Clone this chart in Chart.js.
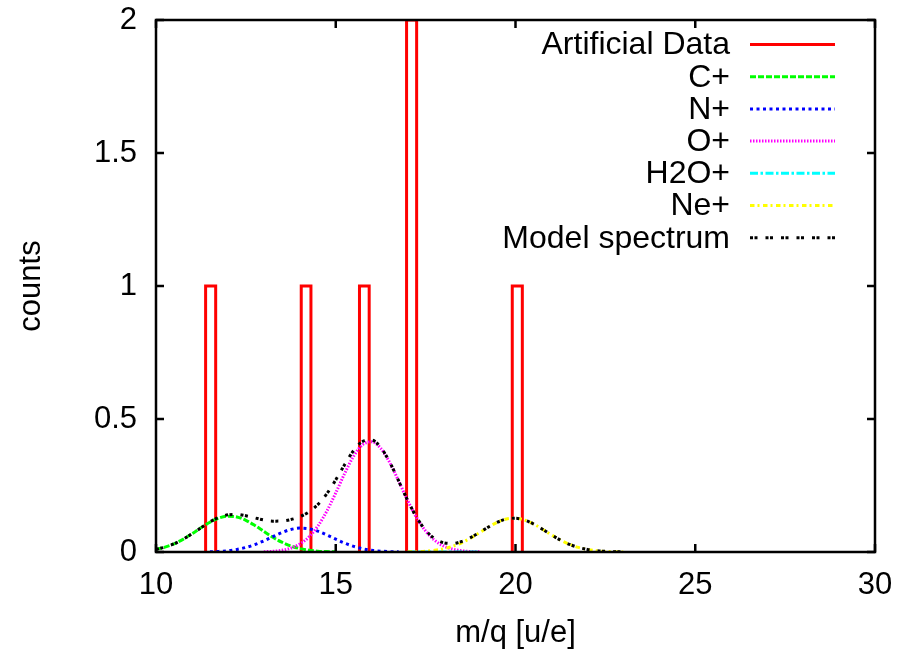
<!DOCTYPE html>
<html>
<head>
<meta charset="utf-8">
<script src="https://cdn.jsdelivr.net/npm/chart.js@4"></script>
<style>
  html, body { margin: 0; padding: 0; background: #fff; }
</style>
</head>
<body>
<canvas id="spectrum" width="899" height="655"></canvas>
<script>
// Histogram of the artificial data (bin edges and counts)
const binLeft  = [11.38, 14.04, 15.66, 16.97, 19.91];
const binRight = [11.66, 14.31, 15.93, 17.25, 20.19];
const binCounts = [1, 1, 1, 2, 1];

// Fitted species peaks
const cPlusMq = [10, 10.25, 10.5, 10.75, 11, 11.25, 11.5, 11.75, 12, 12.25, 12.5, 12.75, 13, 13.25, 13.5, 13.75, 14, 14.25, 14.5, 14.75, 15];
const cPlusCounts = [0.0101, 0.0183, 0.0306, 0.0476, 0.0683, 0.0910, 0.1120, 0.1277, 0.1348, 0.1317, 0.1191, 0.0997, 0.0773, 0.0555, 0.0369, 0.0227, 0.0129, 0.0068, 0.0033, 0.0015, 0.0006];

const nPlusMq = [11.5, 11.75, 12, 12.25, 12.5, 12.75, 13, 13.25, 13.5, 13.75, 14, 14.25, 14.5, 14.75, 15, 15.25, 15.5, 15.75, 16, 16.25, 16.5, 16.75];
const nPlusCounts = [0.0010, 0.0023, 0.0049, 0.0096, 0.0171, 0.0280, 0.0420, 0.0578, 0.0730, 0.0846, 0.0898, 0.0875, 0.0782, 0.0641, 0.0482, 0.0332, 0.0210, 0.0122, 0.0065, 0.0032, 0.0014, 0.0006];

const oPlusMq = [13, 13.25, 13.5, 13.75, 14, 14.25, 14.5, 14.75, 15, 15.25, 15.5, 15.75, 16, 16.25, 16.5, 16.75, 17, 17.25, 17.5, 17.75, 18, 18.25, 18.5, 18.75, 19];
const oPlusCounts = [0.0010, 0.0027, 0.0065, 0.0146, 0.0299, 0.0562, 0.0968, 0.1531, 0.2222, 0.2957, 0.3608, 0.4037, 0.4143, 0.3899, 0.3366, 0.2665, 0.1935, 0.1289, 0.0787, 0.0441, 0.0226, 0.0107, 0.0046, 0.0018, 0.0007];

// H2O+ came out empty (lies on the baseline)
const h2oPlusMq = [17, 18, 19];
const h2oPlusCounts = [0, 0, 0];

const nePlusMq = [17, 17.25, 17.5, 17.75, 18, 18.25, 18.5, 18.75, 19, 19.25, 19.5, 19.75, 20, 20.25, 20.5, 20.75, 21, 21.25, 21.5, 21.75, 22, 22.25, 22.5, 22.75, 23];
const nePlusCounts = [0.0006, 0.0014, 0.0031, 0.0064, 0.0121, 0.0213, 0.0347, 0.0522, 0.0728, 0.0939, 0.1121, 0.1240, 0.1268, 0.1201, 0.1054, 0.0856, 0.0643, 0.0447, 0.0288, 0.0172, 0.0095, 0.0048, 0.0023, 0.0010, 0.0004];

const modelMq = [10, 10.25, 10.5, 10.75, 11, 11.25, 11.5, 11.75, 12, 12.25, 12.5, 12.75, 13, 13.25, 13.5, 13.75, 14, 14.25, 14.5, 14.75, 15, 15.25, 15.5, 15.75, 16, 16.25, 16.5, 16.75, 17, 17.25, 17.5, 17.75, 18, 18.25, 18.5, 18.75, 19, 19.25, 19.5, 19.75, 20, 20.25, 20.5, 20.75, 21, 21.25, 21.5, 21.75, 22, 22.25, 22.5, 22.75, 23];
const modelCounts = [0.0101, 0.0183, 0.0306, 0.0476, 0.0683, 0.0910, 0.1130, 0.1300, 0.1397, 0.1413, 0.1362, 0.1281, 0.1203, 0.1160, 0.1164, 0.1219, 0.1326, 0.1505, 0.1783, 0.2187, 0.2710, 0.3291, 0.3818, 0.4159, 0.4208, 0.3931, 0.3380, 0.2671, 0.1941, 0.1303, 0.0818, 0.0505, 0.0347, 0.0320, 0.0393, 0.0540, 0.0735, 0.0942, 0.1121, 0.1240, 0.1268, 0.1201, 0.1054, 0.0856, 0.0643, 0.0447, 0.0288, 0.0172, 0.0095, 0.0048, 0.0023, 0.0010, 0.0004];

// Axis ticks
const xTicks = [10, 15, 20, 25, 30];
const yTicks = [0, 0.5, 1, 1.5, 2];

const FONT = '"Liberation Sans", Arial, Helvetica, sans-serif';
const FONT_SIZE = 31;
const KEY_FONT_SIZE = 32;

function toPoints(xs, ys) {
  return xs.map((x, i) => ({ x: x, y: ys[i] }));
}

// outlined boxes, open at the bottom; null breaks the line between bins
function histPoints() {
  const pts = [];
  binLeft.forEach((l, i) => {
    const r = binRight[i];
    pts.push({ x: l, y: 0 }, { x: l, y: binCounts[i] }, { x: r, y: binCounts[i] }, { x: r, y: 0 }, { x: r, y: null });
  });
  return pts;
}

function curve(label, xs, ys, color, dash, order) {
  return {
    label: label,
    data: toPoints(xs, ys),
    borderColor: color,
    borderWidth: 3,
    borderDash: dash,
    borderCapStyle: 'butt',
    cubicInterpolationMode: 'monotone',
    pointRadius: 0,
    fill: false,
    order: order
  };
}

// gnuplot style frame with inward ticks on all four sides, drawn over the data
const framePlugin = {
  id: 'frame',
  afterDatasetsDraw(chart) {
    const { ctx, chartArea: a, scales } = chart;
    const tl = 8;
    ctx.save();
    ctx.strokeStyle = '#000';
    ctx.lineWidth = 2.5;
    ctx.setLineDash([]);
    ctx.strokeRect(a.left, a.top, a.right - a.left, a.bottom - a.top);
    ctx.beginPath();
    xTicks.forEach(v => {
      const px = scales.x.getPixelForValue(v);
      ctx.moveTo(px, a.bottom); ctx.lineTo(px, a.bottom - tl);
      ctx.moveTo(px, a.top); ctx.lineTo(px, a.top + tl);
    });
    yTicks.forEach(v => {
      const py = scales.y.getPixelForValue(v);
      ctx.moveTo(a.left, py); ctx.lineTo(a.left + tl, py);
      ctx.moveTo(a.right, py); ctx.lineTo(a.right - tl, py);
    });
    ctx.stroke();
    ctx.restore();
  }
};

// key in the top right: text right aligned, sample line after it
const keyPlugin = {
  id: 'key',
  afterDraw(chart) {
    const ctx = chart.ctx;
    const textRight = 730, lineFrom = 750, lineTo = 835;
    const top = 44.5, step = 32.2;
    ctx.save();
    ctx.font = KEY_FONT_SIZE + 'px ' + FONT;
    ctx.textAlign = 'right';
    ctx.textBaseline = 'middle';
    chart.data.datasets.forEach((ds, i) => {
      const y = top + i * step;
      ctx.fillStyle = '#000';
      ctx.fillText(ds.label, textRight, y + 1);
      ctx.strokeStyle = ds.borderColor;
      ctx.lineWidth = ds.borderWidth;
      ctx.lineCap = 'butt';
      ctx.setLineDash(ds.borderDash || []);
      ctx.beginPath();
      ctx.moveTo(lineFrom, y);
      ctx.lineTo(lineTo, y);
      ctx.stroke();
    });
    ctx.restore();
  }
};

const datasets = [
  {
    label: 'Artificial Data',
    data: histPoints(),
    borderColor: '#ff0000',
    borderWidth: 3,
    borderDash: [],
    tension: 0,
    spanGaps: false,
    pointRadius: 0,
    fill: false,
    order: 6
  },
  curve('C+', cPlusMq, cPlusCounts, '#00ff00', [6, 2], 5),
  curve('N+', nPlusMq, nPlusCounts, '#0000ff', [3, 3.5], 4),
  curve('O+', oPlusMq, oPlusCounts, '#ff00ff', [1.5, 1.5], 3),
  curve('H2O+', h2oPlusMq, h2oPlusCounts, '#00ffff', [8, 2.5, 2.5, 2.5], 2),
  curve('Ne+', nePlusMq, nePlusCounts, '#ffff00', [4.5, 3, 2, 3.5], 1),
  curve('Model spectrum', modelMq, modelCounts, '#000000', [3, 1.5, 3, 8], 0)
];

new Chart(document.getElementById('spectrum').getContext('2d'), {
  type: 'line',
  data: { datasets },
  options: {
    responsive: false,
    animation: false,
    devicePixelRatio: 1,
    layout: { padding: { left: 0, top: 20, right: 24, bottom: 0 } },
    plugins: {
      legend: { display: false },
      tooltip: { enabled: false }
    },
    scales: {
      x: {
        type: 'linear',
        min: 10,
        max: 30,
        afterFit: s => { s.height = 103; s.paddingLeft = 0; s.paddingRight = 0; },
        afterBuildTicks: s => { s.ticks = xTicks.map(v => ({ value: v })); },
        grid: { display: false, drawTicks: false },
        border: { display: false },
        ticks: {
          color: '#000',
          padding: 15,
          maxRotation: 0,
          font: { family: FONT, size: FONT_SIZE },
          callback: v => String(v)
        },
        title: {
          display: true,
          text: 'm/q [u/e]',
          color: '#000',
          font: { family: FONT, size: FONT_SIZE },
          padding: { top: 0, bottom: 3 }
        }
      },
      y: {
        type: 'linear',
        min: 0,
        max: 2,
        afterFit: s => { s.width = 156; s.paddingTop = 0; s.paddingBottom = 0; },
        afterBuildTicks: s => { s.ticks = yTicks.map(v => ({ value: v })); },
        grid: { display: false, drawTicks: false },
        border: { display: false },
        ticks: {
          color: '#000',
          padding: 19,
          font: { family: FONT, size: FONT_SIZE },
          callback: v => String(v)
        },
        title: {
          display: true,
          text: 'counts',
          color: '#000',
          font: { family: FONT, size: FONT_SIZE },
          padding: { top: 13, bottom: 0 }
        }
      }
    }
  },
  plugins: [framePlugin, keyPlugin]
});
</script>
</body>
</html>
